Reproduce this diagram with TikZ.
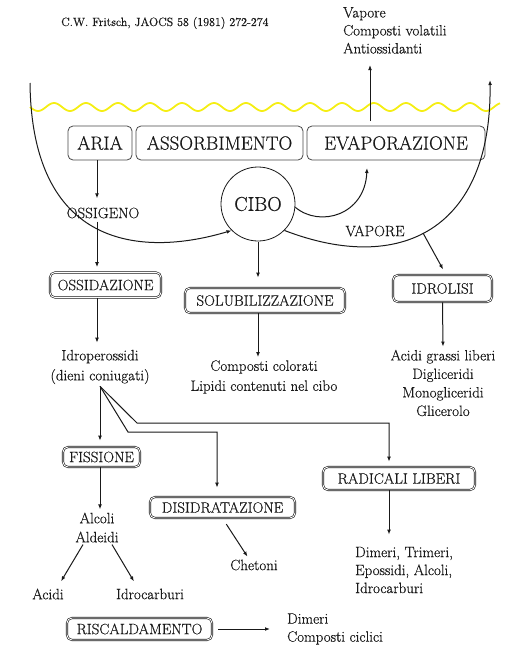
\documentclass[tikz,border=0pt]{standalone}
\usepackage{fontspec}
\newfontfamily\tms[FakeBold=0.5]{Latin Modern Roman}
\usetikzlibrary{arrows.meta}
\definecolor{ink}{gray}{0.1}
\definecolor{wave}{RGB}{245,238,20}
\tikzset{
  txt/.style={font=\tms\fontsize{15}{18.5}\selectfont, text=ink, inner sep=2pt, align=center},
  topbox/.style={draw=ink!80, line width=0.8pt, rounded corners=5pt, inner sep=0pt,
     font=\tms\fontsize{19}{22}\selectfont, text=ink},
  dbox/.style={draw=ink, double=white, double distance=0.9pt, line width=0.6pt,
     rounded corners=5pt, inner sep=0pt, font=\tms\fontsize{15}{18}\selectfont, text=ink},
  arr/.style={draw=ink, line width=1pt, -{Latex[length=5pt,width=3.8pt]}},
}
\begin{document}
\begin{tikzpicture}[x=1pt,y=-1pt]
\useasboundingbox (0,0) rectangle (509,648);

% citation and vapour text
\node[txt, anchor=west, font=\tms\fontsize{12}{15}\selectfont] (cit) at (59,23) {C.W. Fritsch, JAOCS 58 (1981) 272-274};
\node[txt, anchor=north west, align=left, font=\tms\fontsize{15}{18}\selectfont] (vap) at (341,5) {Vapore\\Composti volatili\\Antiossidanti};

% yellow surface
\draw[wave, line width=1.8pt] plot[domain=30:500, samples=300] (\x, {107 + 4*sin((\x-30)*11.25)});

% top boxes
\node[topbox, minimum width=64pt, minimum height=34pt] (aria) at (100,143) {ARIA};
\node[topbox, minimum width=167pt, minimum height=34pt] (ass) at (219.5,143) {ASSORBIMENTO};
\node[topbox, minimum width=178pt, minimum height=34pt] (evap) at (396,143) {EVAPORAZIONE};

% food
\node[draw=ink, line width=0.8pt, circle, minimum size=74pt, inner sep=0pt,
      font=\tms\fontsize{20}{22}\selectfont, text=ink] (cibo) at (258,204) {CIBO};

\node[txt] (oss) at (103,213) {OSSIGENO};
\node[txt] (vapore) at (375,231) {VAPORE};

% lower boxes
\node[dbox, minimum width=111pt, minimum height=25pt] (ossid) at (105.5,285) {OSSIDAZIONE};
\node[dbox, minimum width=160pt, minimum height=25pt] (solub) at (265,300.5) {SOLUBILIZZAZIONE};
\node[dbox, minimum width=99pt, minimum height=27pt] (idrol) at (442.5,288.5) {IDROLISI};
\node[dbox, minimum width=77pt, minimum height=20pt] (fiss) at (101.5,457) {FISSIONE};
\node[dbox, minimum width=145pt, minimum height=21pt] (disid) at (222.5,507.5) {DISIDRATAZIONE};
\node[dbox, minimum width=152pt, minimum height=23pt] (radic) at (399,478.5) {RADICALI LIBERI};
\node[dbox, minimum width=145pt, minimum height=22pt] (risc) at (139.5,629) {RISCALDAMENTO};

% products
\node[txt, font=\tms\fontsize{15}{20}\selectfont] (idro) at (100,367) {Idroperossidi\\(dieni coniugati)};
\node[txt, font=\tms\fontsize{15}{20}\selectfont] (comp) at (264,377) {Composti colorati\\Lipidi contenuti nel cibo};
\node[txt] (acgr) at (443,383) {Acidi grassi liberi\\Digliceridi\\Monogliceridi\\Glicerolo};
\node[txt, font=\tms\fontsize{15}{19}\selectfont] (alc) at (97,527.5) {Alcoli\\Aldeidi};
\node[txt] (acidi) at (48,594) {Acidi};
\node[txt] (idroc) at (150,594) {Idrocarburi};
\node[txt] (chet) at (254,565) {Chetoni};
\node[txt, anchor=west, align=left, font=\tms\fontsize{15}{18}\selectfont] (dim) at (353,570) {Dimeri, Trimeri,\\Epossidi, Alcoli,\\Idrocarburi};
\node[txt, anchor=west, align=left, font=\tms\fontsize{15}{18}\selectfont] (dim2) at (285,629) {Dimeri\\Composti ciclici};

% helper coordinates
\coordinate (lt) at (30,83);
\coordinate (rt) at (490,80);
\coordinate (evs) at (370,121);
\coordinate (evt) at (370,65);
\coordinate (smt) at (367,168);
\coordinate (vs) at (423,233);
\coordinate (b1) at (128,432);
\coordinate (b2) at (137,423);

% big arcs
\draw[arr] (lt) .. controls (32,255) and (150,255) .. (cibo.225);
\draw[arr] (cibo.-45) .. controls (400,275) and (492,230) .. (rt);
\draw[arr] (cibo.-5) .. controls (320,228) and (365,215) .. (smt);
\draw[arr] (evs) -- (evt);
\draw[arr, shorten >=6pt] (vs) -- (idrol.north -| 446,0);

% vertical arrows
\draw[arr, shorten >=7pt] ([xshift=-3pt]aria.south) -- ([xshift=-6pt]oss.north);
\draw[arr, shorten >=5pt, shorten <=1pt] ([xshift=-6pt]oss.south) -- ([xshift=-8.5pt]ossid.north);
\draw[arr, shorten >=5pt] ([xshift=-8.5pt]ossid.south) -- ([xshift=-3pt]idro.north);
\draw[arr, shorten >=10pt, shorten <=1pt] (cibo.south) -- (solub.north -| cibo.south);
\draw[arr, shorten >=1pt] (solub.south -| cibo.south) -- (comp.north -| cibo.south);
\draw[arr, shorten >=1pt] (idrol.south) -- (acgr.north);

% branches from idroperossidi
\draw[arr, shorten >=6pt] (idro.south) -- (fiss.north -| idro.south);
\draw[arr, shorten >=9pt] (idro.south) -- (b1) -| ([xshift=-5.5pt]disid.north);
\draw[arr, shorten >=5pt] (idro.south) -- (b2) -| ([xshift=-10pt]radic.north);
\draw[arr, shorten >=10pt] ([xshift=-10pt]radic.south) -- ([xshift=-10pt]radic.south |- dim.north);

\draw[arr, shorten >=1pt] ([xshift=-1.5pt]fiss.south) -- ([xshift=-1.5pt]fiss.south |- alc.north);
\draw[arr, shorten >=6pt] ([xshift=-14pt]alc.south) -- ([xshift=10pt]acidi.north);
\draw[arr, shorten >=6pt] ([xshift=15pt]alc.south) -- ([xshift=-13pt]idroc.north);
\draw[arr, shorten <=7pt, shorten >=1pt] (disid.south) -- ([xshift=-6pt]chet.north);
\draw[arr, shorten <=6pt, shorten >=15pt] (risc.east) -- (dim2.west);
\end{tikzpicture}
\end{document}
